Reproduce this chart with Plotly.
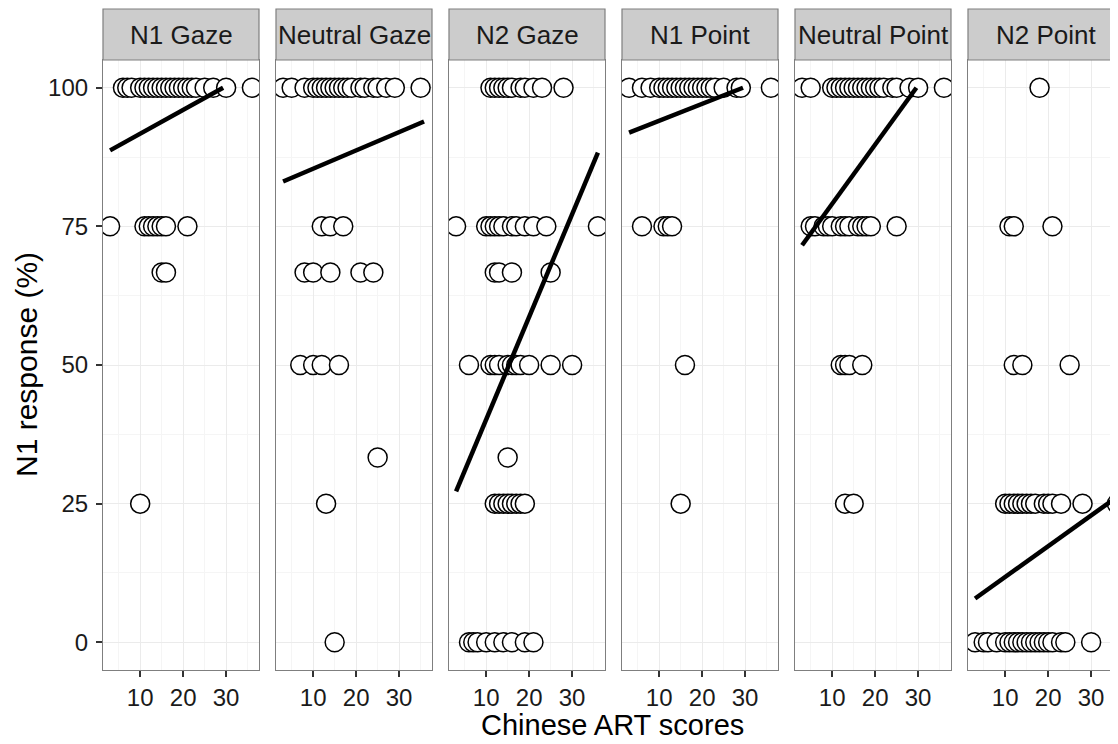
import plotly.graph_objects as go

# ---------------- data ----------------
panels = ["N1 Gaze", "Neutral Gaze", "N2 Gaze", "N1 Point", "Neutral Point", "N2 Point"]

# x = Chinese ART score, grouped by N1 response level (%)
n1_gaze = {
    100: [6, 7, 8, 10, 11, 12, 13, 14, 15, 16, 17, 18, 19, 20, 21, 22, 23, 25, 27, 30, 36],
    75: [3, 11, 12, 13, 14, 15, 16, 21],
    66.67: [15, 16],
    25: [10],
}
neutral_gaze = {
    100: [3, 5, 8, 10, 11, 12, 13, 14, 15, 16, 17, 18, 19, 21, 22, 24, 25, 27, 29, 35],
    75: [12, 14, 17],
    66.67: [8, 10, 14, 21, 24],
    50: [7, 10, 12, 16],
    33.33: [25],
    25: [13],
    0: [15],
}
n2_gaze = {
    100: [11, 12, 13, 14, 15, 16, 18, 19, 21, 23, 28],
    75: [3, 10, 11, 12, 13, 14, 16, 17, 19, 21, 24, 36],
    66.67: [12, 13, 16, 25],
    50: [6, 11, 12, 13, 15, 16, 17, 18, 20, 25, 30],
    33.33: [15],
    25: [12, 13, 14, 15, 16, 17, 18, 19],
    0: [6, 7, 8, 10, 12, 14, 16, 19, 21],
}
n1_point = {
    100: [3, 6, 8, 10, 11, 12, 13, 14, 15, 16, 17, 18, 19, 20, 21, 22, 23, 25, 28, 29, 36],
    75: [6, 11, 12, 13],
    50: [16],
    25: [15],
}
neutral_point = {
    100: [3, 5, 10, 11, 12, 13, 14, 15, 16, 17, 18, 19, 20, 21, 22, 24, 25, 28, 30, 36],
    75: [5, 6, 8, 9, 10, 12, 13, 14, 16, 17, 18, 19, 25],
    50: [12, 13, 14, 17],
    25: [13, 15],
}
n2_point = {
    100: [18],
    75: [11, 12, 21],
    50: [12, 14, 25],
    25: [10, 11, 12, 13, 14, 15, 16, 17, 19, 20, 21, 23, 28, 36],
    0: [3, 5, 6, 8, 10, 11, 12, 13, 14, 15, 16, 17, 18, 19, 20, 21, 23, 24, 30],
}
panel_data = [n1_gaze, neutral_gaze, n2_gaze, n1_point, neutral_point, n2_point]

# linear fit lines (start/end) per panel
fit_x_start = [3, 3, 3, 3, 3, 3]
fit_x_end = [29.3, 35.8, 36, 29.5, 29.6, 36]
fit_y_start = [88.7, 83.1, 27.2, 91.9, 71.6, 7.9]
fit_y_end = [100, 93.9, 88.3, 100, 100, 26.2]

x_ticks = [10, 20, 30]
x_minor = [5, 15, 25, 35]
y_ticks = [0, 25, 50, 75, 100]
y_minor = [12.5, 37.5, 62.5, 87.5]

# ---------------- layout geometry ----------------
# page body has an 8px margin; work in screen pixels and subtract it
OFF = 8
SCREEN_W, SCREEN_H = 1118, 744
W, H = SCREEN_W - OFF, SCREEN_H - OFF
panel_top, panel_bottom = 60, 670           # screen px
ML = 103 - OFF
MR = 0
MT = panel_top - OFF
MB = H - (panel_bottom - OFF)
PW = W - ML - MR
PH = H - MT - MB
panel_left_px = [103, 276, 449, 622, 795, 968]   # screen px
panel_w_px = 156
x_range = [1.35, 37.65]
units_per_px = (x_range[1] - x_range[0]) / panel_w_px
strip_h = 51 / PH

FONT = "Liberation Sans, Arial, Helvetica, sans-serif"

fig = go.Figure()
shapes = []
annotations = []

for i, (name, d) in enumerate(zip(panels, panel_data)):
    ax = "" if i == 0 else str(i + 1)
    xs, ys = [], []
    for lvl, vals in d.items():
        for v in vals:
            xs.append(v)
            ys.append(lvl)
    fig.add_trace(go.Scatter(
        x=xs, y=ys, mode="markers", xaxis="x" + ax, yaxis="y" + ax,
        marker=dict(symbol="circle", size=19, color="white",
                    line=dict(color="black", width=1.5)),
        showlegend=False, hoverinfo="x+y"))
    fig.add_trace(go.Scatter(
        x=[fit_x_start[i], fit_x_end[i]], y=[fit_y_start[i], fit_y_end[i]],
        mode="lines", xaxis="x" + ax, yaxis="y" + ax,
        line=dict(color="black", width=4.5), showlegend=False, hoverinfo="skip"))

    left = panel_left_px[i]
    right = left + panel_w_px
    d0 = (left - 103) / PW
    d1 = min(1.0, (right - 103) / PW)
    rng_right = x_range[0] + (min(right, SCREEN_W) - left) * units_per_px
    fig.layout["xaxis" + ax] = dict(
        domain=[d0, d1], range=[x_range[0], rng_right], anchor="y" + ax,
        tickvals=x_ticks, ticks="outside", ticklen=6, tickwidth=1.5, tickcolor="#333333",
        tickfont=dict(size=24, color="#1a1a1a", family=FONT),
        showgrid=True, gridcolor="#EBEBEB", gridwidth=1.2,
        minor=dict(tickvals=x_minor, showgrid=True, gridcolor="#F5F5F5", gridwidth=0.8, ticks=""),
        showline=True, mirror=True, linecolor="#7F7F7F", linewidth=1.2,
        zeroline=False, fixedrange=True)
    fig.layout["yaxis" + ax] = dict(
        domain=[0, 1], range=[-5, 105], anchor="x" + ax,
        tickvals=y_ticks, ticks="outside" if i == 0 else "", ticklen=6, tickwidth=1.5,
        tickcolor="#333333", showticklabels=(i == 0), ticklabelstandoff=3,
        tickfont=dict(size=24, color="#1a1a1a", family=FONT),
        showgrid=True, gridcolor="#EBEBEB", gridwidth=1.2,
        minor=dict(tickvals=y_minor, showgrid=True, gridcolor="#F5F5F5", gridwidth=0.8, ticks=""),
        showline=True, mirror=True, linecolor="#7F7F7F", linewidth=1.2,
        zeroline=False, fixedrange=True)

    # strip header
    shapes.append(dict(type="rect", xref="paper", yref="paper",
                       x0=d0, x1=d1, y0=1, y1=1 + strip_h,
                       fillcolor="#CCCCCC", line=dict(color="#7F7F7F", width=1.2)))
    annotations.append(dict(text=name, xref="paper", yref="paper",
                            x=(d0 + (right - 103) / PW) / 2, y=1 + strip_h / 2,
                            xanchor="center", yanchor="middle", showarrow=False,
                            font=dict(size=26, color="#1a1a1a", family=FONT)))

annotations.append(dict(text="Chinese ART scores", xref="paper", yref="paper",
                        x=(612 - 103) / PW, y=-(725 - panel_bottom) / PH,
                        xanchor="center", yanchor="middle", showarrow=False,
                        font=dict(size=29, color="black", family=FONT)))
annotations.append(dict(text="N1 response (%)", xref="paper", yref="paper",
                        x=(26 - 103) / PW, y=0.5, textangle=-90,
                        xanchor="center", yanchor="middle", showarrow=False,
                        font=dict(size=30, color="black", family=FONT)))

fig.update_layout(
    width=W, height=H,
    margin=dict(l=ML, r=MR, t=MT, b=MB, pad=0),
    paper_bgcolor="white", plot_bgcolor="white",
    shapes=shapes, annotations=annotations,
    font=dict(family=FONT),
)

fig.write_html("out.html")
